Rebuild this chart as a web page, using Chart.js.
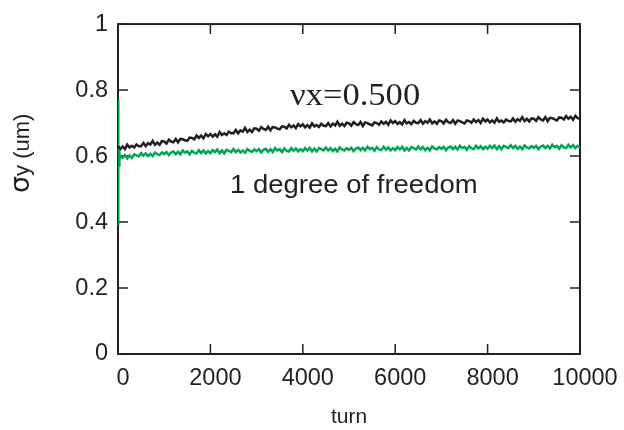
<!DOCTYPE html>
<html>
<head>
<meta charset="utf-8">
<script src="https://cdn.jsdelivr.net/npm/chart.js@4.4.1/dist/chart.umd.min.js"></script>
<style>
  html, body { margin: 0; padding: 0; background: #fff; }
  canvas { display: block; }
</style>
</head>
<body>
<canvas id="sigmaChart" width="624" height="430"></canvas>
<script>
// sampling of the tracked turns (one record every 50 turns)
const turnStep = 50;

// sigma_y [um], nu_x = 0.500 run (black)
const sigmaNux = [
  0.630, 0.622, 0.629, 0.621, 0.635, 0.626, 0.631, 0.626, 0.635, 0.630,
  0.630, 0.640, 0.630, 0.639, 0.635, 0.646, 0.634, 0.641, 0.634, 0.645,
  0.644, 0.638, 0.650, 0.644, 0.642, 0.652, 0.641, 0.652, 0.651, 0.648,
  0.646, 0.656, 0.655, 0.651, 0.662, 0.655, 0.662, 0.654, 0.667, 0.660,
  0.667, 0.659, 0.666, 0.659, 0.673, 0.664, 0.669, 0.664, 0.674, 0.669,
  0.669, 0.679, 0.669, 0.678, 0.674, 0.685, 0.673, 0.680, 0.673, 0.684,
  0.683, 0.677, 0.688, 0.682, 0.679, 0.689, 0.678, 0.688, 0.687, 0.683,
  0.681, 0.690, 0.689, 0.684, 0.695, 0.687, 0.693, 0.685, 0.697, 0.690,
  0.696, 0.687, 0.694, 0.686, 0.699, 0.690, 0.694, 0.688, 0.698, 0.692,
  0.691, 0.700, 0.690, 0.698, 0.693, 0.704, 0.692, 0.698, 0.691, 0.701,
  0.699, 0.692, 0.703, 0.697, 0.694, 0.703, 0.691, 0.702, 0.700, 0.696,
  0.693, 0.702, 0.700, 0.695, 0.705, 0.698, 0.704, 0.695, 0.708, 0.700,
  0.706, 0.697, 0.703, 0.696, 0.709, 0.699, 0.703, 0.697, 0.707, 0.701,
  0.700, 0.709, 0.698, 0.706, 0.701, 0.711, 0.699, 0.705, 0.698, 0.708,
  0.706, 0.699, 0.710, 0.703, 0.700, 0.709, 0.698, 0.708, 0.706, 0.702,
  0.699, 0.708, 0.706, 0.701, 0.711, 0.703, 0.709, 0.700, 0.713, 0.705,
  0.711, 0.702, 0.708, 0.701, 0.714, 0.704, 0.708, 0.702, 0.711, 0.706,
  0.705, 0.714, 0.704, 0.712, 0.707, 0.718, 0.706, 0.713, 0.705, 0.714,
  0.713, 0.707, 0.718, 0.711, 0.708, 0.718, 0.706, 0.716, 0.715, 0.711,
  0.708, 0.717, 0.716, 0.711, 0.721, 0.713, 0.719, 0.710, 0.722, 0.715,
  0.713
];

// sigma_y [um], 1 degree of freedom (green)
const sigmaOneDof = [
  0.591, 0.601, 0.595, 0.603, 0.593, 0.602, 0.594, 0.605, 0.602, 0.599,
  0.609, 0.601, 0.608, 0.600, 0.607, 0.600, 0.611, 0.606, 0.603, 0.611,
  0.606, 0.612, 0.603, 0.611, 0.614, 0.606, 0.613, 0.605, 0.617, 0.610,
  0.614, 0.605, 0.616, 0.610, 0.608, 0.618, 0.609, 0.617, 0.608, 0.615,
  0.609, 0.618, 0.612, 0.620, 0.609, 0.617, 0.608, 0.619, 0.616, 0.612,
  0.621, 0.612, 0.619, 0.611, 0.617, 0.610, 0.621, 0.616, 0.613, 0.620,
  0.615, 0.621, 0.611, 0.619, 0.622, 0.613, 0.621, 0.612, 0.624, 0.617,
  0.621, 0.612, 0.623, 0.616, 0.614, 0.624, 0.616, 0.623, 0.614, 0.621,
  0.615, 0.624, 0.617, 0.625, 0.614, 0.623, 0.614, 0.624, 0.621, 0.617,
  0.626, 0.617, 0.624, 0.615, 0.622, 0.614, 0.626, 0.620, 0.617, 0.624,
  0.619, 0.625, 0.615, 0.623, 0.626, 0.618, 0.625, 0.617, 0.628, 0.621,
  0.625, 0.616, 0.627, 0.620, 0.618, 0.628, 0.619, 0.626, 0.617, 0.624,
  0.618, 0.627, 0.620, 0.628, 0.617, 0.625, 0.617, 0.627, 0.624, 0.620,
  0.629, 0.620, 0.627, 0.618, 0.625, 0.617, 0.629, 0.623, 0.620, 0.627,
  0.622, 0.628, 0.618, 0.626, 0.629, 0.621, 0.628, 0.620, 0.631, 0.624,
  0.628, 0.619, 0.630, 0.623, 0.621, 0.631, 0.623, 0.630, 0.621, 0.628,
  0.622, 0.631, 0.624, 0.632, 0.621, 0.630, 0.621, 0.631, 0.628, 0.624,
  0.633, 0.624, 0.631, 0.622, 0.629, 0.621, 0.632, 0.626, 0.623, 0.630,
  0.625, 0.631, 0.621, 0.629, 0.632, 0.624, 0.631, 0.623, 0.634, 0.627,
  0.631, 0.622, 0.633, 0.626, 0.624, 0.634, 0.626, 0.633, 0.624, 0.631,
  0.627
];

// first turns of the 1-dof run, before it settles
const oneDofStartTurns = [0, 2, 4, 6, 8, 10, 12, 14, 16, 18, 20, 25, 30, 35, 40, 45];
const oneDofStartSigma = [0.77, 0.41, 0.74, 0.39, 0.70, 0.46, 0.67, 0.52, 0.65, 0.55, 0.63, 0.57, 0.62, 0.58, 0.605, 0.59];

const yTicks = [0, 0.2, 0.4, 0.6, 0.8, 1];
const xTicks = [0, 2000, 4000, 6000, 8000, 10000];

const INK = '#231f20';
const GREEN = '#00a651';
const SANS = '"Liberation Sans", Arial, sans-serif';

const toPoints = (vals) => vals.map((v, i) => ({ x: i * turnStep, y: v }));

// frame with inward tick marks on all four sides
const framePlugin = {
  id: 'frame',
  beforeDatasetsDraw(chart) {
    const { ctx, chartArea: a, scales } = chart;
    const len = 10;
    ctx.save();
    ctx.strokeStyle = INK;
    ctx.lineWidth = 2;
    ctx.strokeRect(a.left, a.top, a.right - a.left, a.bottom - a.top);
    ctx.lineWidth = 1.5;
    ctx.beginPath();
    xTicks.forEach(t => {
      const px = scales.x.getPixelForValue(t);
      ctx.moveTo(px, a.bottom); ctx.lineTo(px, a.bottom - len);
      ctx.moveTo(px, a.top); ctx.lineTo(px, a.top + len);
    });
    yTicks.forEach(t => {
      const py = scales.y.getPixelForValue(t);
      ctx.moveTo(a.left, py); ctx.lineTo(a.left + len, py);
      ctx.moveTo(a.right, py); ctx.lineTo(a.right - len, py);
    });
    ctx.stroke();
    ctx.restore();
  },
  afterDraw(chart) {
    const { ctx } = chart;
    ctx.save();
    ctx.fillStyle = INK;
    ctx.textBaseline = 'alphabetic';

    // y axis title: larger sigma, then "y (um)"
    ctx.save();
    ctx.translate(29, 193);
    ctx.rotate(-Math.PI / 2);
    ctx.textAlign = 'left';
    ctx.font = '27px "DejaVu Sans", sans-serif';
    ctx.fillText('\u03c3', 0, 0);
    const sw = ctx.measureText('\u03c3').width;
    ctx.font = '22px ' + SANS;
    ctx.fillText('y (um)', sw, 0);
    ctx.restore();

    // run labels
    ctx.save();
    ctx.translate(290, 105);
    ctx.scale(1.08, 1);
    ctx.font = '32px "Liberation Serif", "Times New Roman", serif';
    ctx.fillText('\u03bdx=0.500', 0, 0);
    ctx.restore();

    ctx.save();
    ctx.translate(230, 193);
    ctx.scale(1.1, 1);
    ctx.font = '25px ' + SANS;
    ctx.fillText('1 degree of freedom', 0, 0);
    ctx.restore();

    ctx.restore();
  }
};

new Chart(document.getElementById('sigmaChart'), {
  type: 'line',
  data: {
    datasets: [
      {
        data: toPoints(sigmaNux),
        borderColor: INK,
        borderWidth: 2.5,
        pointRadius: 0,
        tension: 0
      },
      {
        data: toPoints(sigmaOneDof),
        borderColor: GREEN,
        borderWidth: 2.5,
        pointRadius: 0,
        tension: 0
      },
      {
        data: oneDofStartTurns.map((t, i) => ({ x: t, y: oneDofStartSigma[i] })),
        borderColor: GREEN,
        borderWidth: 2,
        pointRadius: 0,
        tension: 0
      }
    ]
  },
  options: {
    responsive: false,
    animation: false,
    devicePixelRatio: 1,
    layout: { padding: { top: 18, right: 44, left: 0, bottom: 0 } },
    plugins: {
      legend: { display: false },
      tooltip: { enabled: false }
    },
    scales: {
      x: {
        type: 'linear',
        min: 0,
        max: 10000,
        afterFit: s => { s.height = 76; },
        afterBuildTicks: s => { s.ticks = xTicks.map(v => ({ value: v })); },
        grid: { display: false, drawTicks: false },
        border: { display: false },
        ticks: {
          color: INK,
          padding: 10,
          labelOffset: 5,
          font: { family: SANS, size: 23.5 },
          maxRotation: 0,
          callback: v => String(v)
        },
        title: {
          display: true,
          text: 'turn',
          color: INK,
          font: { family: SANS, size: 21 },
          padding: { top: 0, bottom: 0 }
        }
      },
      y: {
        min: 0,
        max: 1,
        afterFit: s => { s.width = 118; },
        afterBuildTicks: s => { s.ticks = yTicks.map(v => ({ value: v })); },
        grid: { display: false, drawTicks: false },
        border: { display: false },
        ticks: {
          color: INK,
          padding: 10,
          font: { family: SANS, size: 23.5 },
          callback: v => String(v)
        }
      }
    }
  },
  plugins: [framePlugin]
});
</script>
</body>
</html>
